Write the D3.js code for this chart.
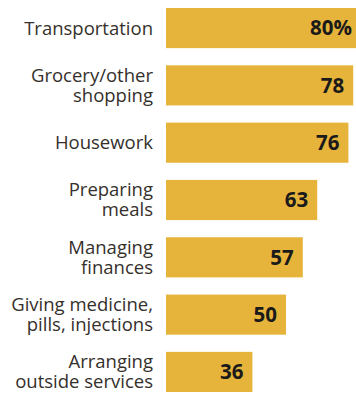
<!DOCTYPE html>
<html>
<head>
<meta charset="utf-8">
<script src="https://cdn.jsdelivr.net/npm/d3@7"></script>
<style>
  body { margin: 0; background: #fff; }
</style>
</head>
<body>
<div id="chart"></div>
<script>
const WIDTH = 356;
const HEIGHT = 399;

// Data
const categories = [
  ["Transportation"],
  ["Grocery/other", "shopping"],
  ["Housework"],
  ["Preparing", "meals"],
  ["Managing", "finances"],
  ["Giving medicine,", "pills, injections"],
  ["Arranging", "outside services"]
];
const values = [80, 78, 76, 63, 57, 50, 36];
const valueLabels = ["80%", "78", "76", "63", "57", "50", "36"];

const svg = d3.select("#chart")
  .append("svg")
  .attr("width", WIDTH)
  .attr("height", HEIGHT);

const x = d3.scaleLinear().domain([0, 80]).range([166, 358]);
const y = d3.scaleBand()
  .domain(d3.range(values.length))
  .range([8, 392])
  .paddingInner(0.3);

const rows = svg.selectAll("g.row")
  .data(values)
  .enter()
  .append("g")
  .attr("class", "row");

// Bars
rows.append("rect")
  .attr("x", x(0))
  .attr("y", (d, i) => y(i))
  .attr("width", d => x(d) - x(0))
  .attr("height", y.bandwidth())
  .attr("fill", "#e6b43a");

// Values inside the bars
rows.append("text")
  .attr("x", (d, i) => x(d) - (i === 0 ? 6 : 9))
  .attr("y", (d, i) => y(i) + y.bandwidth() / 2)
  .attr("dy", "0.36em")
  .attr("text-anchor", "end")
  .attr("font-family", "'Open Sans', sans-serif")
  .attr("font-weight", "bold")
  .attr("font-size", "20.5px")
  .attr("fill", "#1a1a1a")
  .text((d, i) => valueLabels[i]);

// Category labels
const lineH = 20;
rows.append("text")
  .attr("text-anchor", "end")
  .attr("font-family", "'Open Sans', sans-serif")
  .attr("font-size", "18.5px")
  .attr("fill", "#35302b")
  .each(function (d, i) {
    const lines = categories[i];
    const cy = y(i) + y.bandwidth() / 2;
    const top = cy - (lines.length - 1) * lineH / 2;
    d3.select(this).selectAll("tspan")
      .data(lines)
      .enter()
      .append("tspan")
      .attr("x", 153)
      .attr("y", (l, j) => top + j * lineH)
      .attr("dy", "0.35em")
      .text(l => l);
  });
</script>
</body>
</html>
